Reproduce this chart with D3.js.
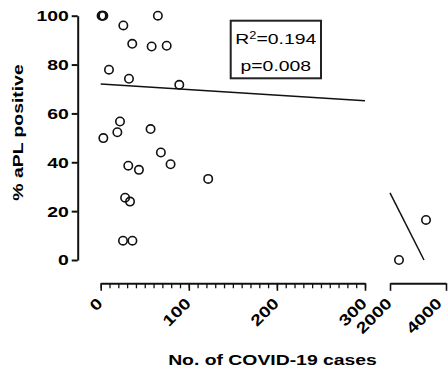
<!DOCTYPE html>
<html>
<head>
<meta charset="utf-8">
<script src="https://cdn.jsdelivr.net/npm/d3@7/dist/d3.min.js"></script>
<style>
  html, body { margin: 0; padding: 0; background: #fff; }
  svg { display: block; }
  text { font-family: "Liberation Sans", Arial, Helvetica, sans-serif; fill: #000; }
</style>
</head>
<body>
<svg id="chart" width="448" height="375"></svg>
<script>
// ---- data ----
const casesLow = [1, 2, 3, 25.7, 64.9, 35.8, 57.8, 74.9, 9.4, 32.1, 89.2, 3, 21.9, 18.9, 56.6, 68.3, 79.3, 31.3, 43.4, 122, 27.7, 33.3, 25.3, 36];
const aplLow   = [100, 100, 100, 96, 100, 88.5, 87.4, 87.7, 77.9, 74.2, 71.7, 49.9, 56.7, 52.3, 53.6, 44, 39.2, 38.6, 36.9, 33.2, 25.5, 23.9, 7.9, 7.9];
const casesHigh = [2321, 3286];
const aplHigh   = [0, 16.4];
const fitLowX  = [0, 300];
const fitLowY  = [72.0, 65.2];
const fitHighX = [2000, 3214];
const fitHighY = [27.5, 0];
const yTicks = [0, 20, 40, 60, 80, 100];
const xMinorTicks = [0,10,20,30,40,50,60,70,80,90,100,110,120,130,140,150,160,170,180,190,200,210,220,230,240,250,260,270,280,290,300];
const xMajorTicks = [0, 100, 200, 300];
const xHighTicks = [2000, 4000];
const yTitle = "% aPL positive";
const xTitle = "No. of COVID-19 cases";
const statR2 = "0.194";
const statP = "0.008";

// ---- layout ----
const SX = 1.25;   // horizontal text stretch
const FS = 15.5;
const svg = d3.select("#chart");
svg.append("rect").attr("width", 448).attr("height", 375).attr("fill", "#fff");

const y = d3.scaleLinear().domain([0, 100]).range([260, 15.7]);
const x1 = d3.scaleLinear().domain([0, 300]).range([100.7, 365]);
const x2 = d3.scaleLinear().domain([2000, 4000]).range([390, 446]);
const yAxisX = 77.7, xAxisY = 283.3;

// y axis
const gy = svg.append("g").attr("transform", `translate(${yAxisX},0)`)
  .call(d3.axisLeft(y).tickValues(yTicks).tickSize(6).tickSizeOuter(0).tickFormat(""));
gy.selectAll("path, line").attr("stroke", "#111").attr("stroke-width", 2);
yTicks.forEach(v => {
  svg.append("text")
    .attr("transform", `translate(${yAxisX - 9},${y(v)}) scale(${SX},1)`)
    .attr("text-anchor", "end").attr("dy", "0.35em")
    .attr("font-size", FS).attr("font-weight", "bold").text(v);
});

// x axis segment 1
const gxMinor = svg.append("g").attr("transform", `translate(0,${xAxisY})`)
  .call(d3.axisBottom(x1).tickValues(xMinorTicks).tickSize(5).tickSizeOuter(0).tickFormat(""));
gxMinor.selectAll("path, line").attr("stroke", "#111");
gxMinor.select("path").attr("stroke-width", 2);
gxMinor.selectAll("line").attr("stroke-width", 1.3);
const gxMajor = svg.append("g").attr("transform", `translate(0,${xAxisY})`)
  .call(d3.axisBottom(x1).tickValues(xMajorTicks).tickSize(7.5).tickSizeOuter(0).tickFormat(""));
gxMajor.select("path").remove();
gxMajor.selectAll("line").attr("stroke", "#111").attr("stroke-width", 1.6);

// x axis segment 2
const gx2 = svg.append("g").attr("transform", `translate(0,${xAxisY})`)
  .call(d3.axisBottom(x2).tickValues(xHighTicks).tickSize(7.5).tickSizeOuter(0).tickFormat(""));
gx2.selectAll("path, line").attr("stroke", "#111");
gx2.select("path").attr("stroke-width", 2);
gx2.selectAll("line").attr("stroke-width", 1.6);

function xLabel(px, txt) {
  svg.append("text")
    .attr("transform", `translate(${Math.min(px + 3, 443)},${xAxisY + 21}) rotate(-45) scale(${SX},1)`)
    .attr("text-anchor", "end")
    .attr("font-size", FS).attr("font-weight", "bold").text(txt);
}
xMajorTicks.forEach(v => xLabel(x1(v), v));
xHighTicks.forEach(v => xLabel(x2(v), v));

// titles
svg.append("text")
  .attr("transform", `translate(23,132.5) rotate(-90) scale(${SX},1)`)
  .attr("text-anchor", "middle").attr("font-size", FS).attr("font-weight", "bold").text(yTitle);
svg.append("text")
  .attr("transform", `translate(272.5,365) scale(${SX},1)`)
  .attr("text-anchor", "middle").attr("font-size", FS).attr("font-weight", "bold").text(xTitle);

// regression lines
const lineLow = d3.line().x(d => x1(d[0])).y(d => y(d[1]));
const lineHigh = d3.line().x(d => x2(d[0])).y(d => y(d[1]));
svg.append("path").datum(fitLowX.map((v, i) => [v, fitLowY[i]]))
  .attr("d", lineLow).attr("fill", "none").attr("stroke", "#111").attr("stroke-width", 1.5);
svg.append("path").datum(fitHighX.map((v, i) => [v, fitHighY[i]]))
  .attr("d", lineHigh).attr("fill", "none").attr("stroke", "#111").attr("stroke-width", 1.5);

// points
svg.append("g").selectAll("circle").data(casesLow.map((v, i) => [v, aplLow[i]]))
  .join("circle").attr("cx", d => x1(d[0])).attr("cy", d => y(d[1])).attr("r", 4.2)
  .attr("fill", "none").attr("stroke", "#111").attr("stroke-width", 1.6);
svg.append("g").selectAll("circle").data(casesHigh.map((v, i) => [v, aplHigh[i]]))
  .join("circle").attr("cx", d => x2(d[0])).attr("cy", d => y(d[1])).attr("r", 4.2)
  .attr("fill", "none").attr("stroke", "#111").attr("stroke-width", 1.6);

// stats box
svg.append("rect").attr("x", 230.7).attr("y", 20.7).attr("width", 90.3).attr("height", 57.6)
  .attr("fill", "none").attr("stroke", "#222").attr("stroke-width", 2);
const t1 = svg.append("text")
  .attr("transform", `translate(275.8,44) scale(${SX},1)`)
  .attr("text-anchor", "middle").attr("font-size", FS);
t1.append("tspan").text("R");
t1.append("tspan").attr("font-size", FS * 0.66).attr("dy", "-0.5em").text("2");
t1.append("tspan").attr("dy", "0.33em").text("=" + statR2);
svg.append("text")
  .attr("transform", `translate(275.8,70.5) scale(${SX},1)`)
  .attr("text-anchor", "middle").attr("font-size", FS).text("p=" + statP);
</script>
</body>
</html>
